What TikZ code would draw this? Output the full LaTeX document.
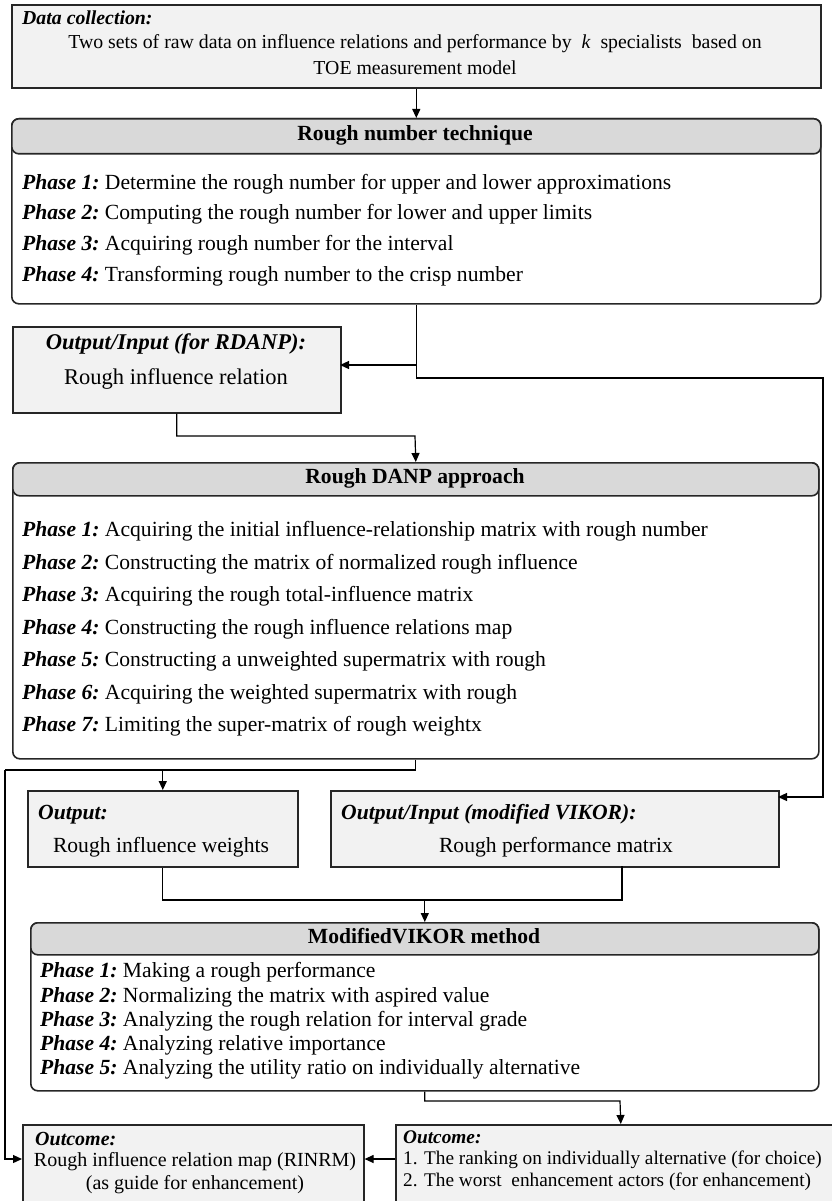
\documentclass[tikz,border=0pt]{standalone}
\usepackage{fontspec}
\setmainfont{Liberation Serif}
\usetikzlibrary{arrows.meta}
\definecolor{boxgray}{HTML}{F2F2F2}
\definecolor{headgray}{HTML}{D9D9D9}
\definecolor{edge}{HTML}{262626}
\newcommand{\fs}{\fontsize{21.6}{25}\selectfont}
\newcommand{\fsd}{\fontsize{19.8}{23}\selectfont}
\newcommand{\fsl}{\fontsize{20}{24}\selectfont}
\newcommand{\fso}{\fontsize{19.3}{23}\selectfont}
\newcommand{\ph}[1]{\textbf{\textit{Phase #1:}}\ }
\begin{document}
\begin{tikzpicture}[x=1pt,y=-1pt,
  box/.style={draw=edge, line width=1.6pt, fill=boxgray, inner sep=0pt, anchor=north west},
  body/.style={draw=edge, line width=1.6pt, fill=white, rounded corners=7pt, inner sep=0pt, anchor=north west},
  head/.style={draw=edge, line width=1.6pt, fill=headgray, rounded corners=7pt, inner sep=0pt, anchor=north west},
  conn/.style={line width=1.2pt, black},
  arr/.style={conn, -{Triangle[length=9pt,width=8pt]}},
  tl/.style={font=\fs, inner sep=0pt, anchor=mid west},
  tc/.style={font=\fs, inner sep=0pt, anchor=mid},
  th/.style={font=\fs\bfseries, inner sep=0pt, anchor=mid},
]
\useasboundingbox (0,0) rectangle (831,1201);

% Data collection
\node[box, minimum width=809pt, minimum height=83pt] (dc) at (11,4) {};
\node[tl, font=\fsd] (dct) at (22,22) {\textbf{\textit{Data collection:}}};
\node[tc, font=\fsd] (dc1) at (415,46) {Two sets of raw data on influence relations and performance by \ \textit{k} \ specialists \ based on};
\node[tc, font=\fsd] (dc2) at (415,72) {TOE measurement model};

% Rough number technique
\node[body, minimum width=809pt, minimum height=185pt] (rn) at (11,118) {};
\node[head, minimum width=809pt, minimum height=35pt] (rnh) at (11,118) {};
\node[th] (rnht) at (415,138) {Rough number technique};
\node[tl] (rp1) at (22,187) {\ph{1}Determine the rough number for upper and lower approximations};
\node[tl] (rp2) at (22,217) {\ph{2}Computing the rough number for lower and upper limits};
\node[tl] (rp3) at (22,248) {\ph{3}Acquiring rough number for the interval};
\node[tl] (rp4) at (22,279) {\ph{4}Transforming rough number to the crisp number};

% Output/Input for RDANP
\node[box, minimum width=328pt, minimum height=86pt] (oi) at (12,326) {};
\node[tc, font=\fontsize{22.5}{26}\selectfont] (oit) at (176,347) {\textbf{\textit{Output/Input (for RDANP):}}};
\node[tc, font=\fontsize{22.5}{26}\selectfont] (oi1) at (176,382) {Rough influence relation};

% Rough DANP
\node[body, minimum width=806pt, minimum height=296pt] (dn) at (12,462) {};
\node[head, minimum width=806pt, minimum height=33pt] (dnh) at (12,462) {};
\node[th] (dnht) at (415,481) {Rough DANP approach};
\node[tl] (dp1) at (22,534) {\ph{1}Acquiring the initial influence-relationship matrix with rough number};
\node[tl] (dp2) at (22,567) {\ph{2}Constructing the matrix of normalized rough influence};
\node[tl] (dp3) at (22,599) {\ph{3}Acquiring the rough total-influence matrix};
\node[tl] (dp4) at (22,632) {\ph{4}Constructing the rough influence relations map};
\node[tl] (dp5) at (22,664) {\ph{5}Constructing a unweighted supermatrix with rough};
\node[tl] (dp6) at (22,697) {\ph{6}Acquiring the weighted supermatrix with rough};
\node[tl] (dp7) at (22,729) {\ph{7}Limiting the super-matrix of rough weightx};

% Output weights
\node[box, minimum width=270pt, minimum height=76pt] (ow) at (27,790) {};
\node[tl] (owt) at (38,817) {\textbf{\textit{Output:}}};
\node[tc] (ow1) at (161,850) {Rough influence weights};

% Output/Input modified VIKOR
\node[box, minimum width=448pt, minimum height=76pt] (vi) at (330,790) {};
\node[tl] (vit) at (341,817) {\textbf{\textit{Output/Input (modified VIKOR):}}};
\node[tc] (vi1) at (556,850) {Rough performance matrix};

% Modified VIKOR
\node[body, minimum width=788pt, minimum height=168pt] (vk) at (30,922) {};
\node[head, minimum width=788pt, minimum height=32pt] (vkh) at (30,922) {};
\node[th] (vkht) at (424,941) {ModifiedVIKOR method};
\node[tl] (vp1) at (40,975) {\ph{1}Making a rough performance};
\node[tl] (vp2) at (40,1000) {\ph{2}Normalizing the matrix with aspired value};
\node[tl] (vp3) at (40,1024) {\ph{3}Analyzing the rough relation for interval grade};
\node[tl] (vp4) at (40,1048) {\ph{4}Analyzing relative importance};
\node[tl] (vp5) at (40,1072) {\ph{5}Analyzing the utility ratio on individually alternative};

% Outcomes
\node[box, minimum width=341pt, minimum height=90pt] (ol) at (22,1124) {};
\node[tl, font=\fsl] (olt) at (35,1143) {\textbf{\textit{Outcome:}}};
\node[tc, font=\fsl] (ol1) at (195,1164) {Rough influence relation map (RINRM)};
\node[tc, font=\fsl] (ol2) at (195,1187) {(as guide for enhancement)};
\node[box, minimum width=450pt, minimum height=90pt] (or) at (395,1124) {};
\node[tl, font=\fso] (ort) at (403,1141) {\textbf{\textit{Outcome:}}};
\node[tl, font=\fso] (or1) at (403,1162) {1. The ranking on individually alternative (for choice)};
\node[tl, font=\fso] (or2) at (403,1184) {2. The worst \ enhancement actors (for enhancement)};

% connector junctions
\coordinate (c1) at (823,378);
\coordinate (vin) at (778,797);
\coordinate (j2) at (415,436);
\coordinate (j3) at (5,770);
\coordinate (olw) at (22,1159);
\coordinate (j4) at (622,900);
\coordinate (vis) at (622,866);
\coordinate (j5) at (620,1101);
\coordinate (oiy) at (340,365);

% connectors
\draw[arr] (dc.south) -- (rn.north);
\draw[arr] (rn.south) |- (c1) |- (vin);
\draw[arr] (rn.south |- oiy) -- (oiy);
\draw[arr] (oi.south) |- (j2) -- (dn.north);
\draw[conn] (dn.south) |- (j3);
\draw[arr] (j3) |- (olw);
\draw[arr] (ow.north |- j3) -- (ow.north);
\draw[conn] (ow.south) |- (j4) -- (vis);
\draw[arr] (vk.north |- j4) -- (vk.north);
\draw[arr] (vk.south) |- (j5) -- (or.north);
\draw[arr] (or.west |- olw) -- (ol.east |- olw);
\end{tikzpicture}
\end{document}
